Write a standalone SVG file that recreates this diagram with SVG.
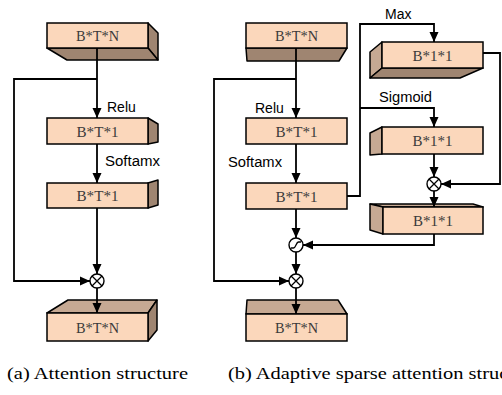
<svg xmlns="http://www.w3.org/2000/svg" width="502" height="395" viewBox="0 0 502 395">
<style>
.front{fill:#fbd7bb;stroke:#000;stroke-width:1.5}
.dark{fill:#9f8571;stroke:#000;stroke-width:1.5;stroke-linejoin:round}
.mid{fill:#c6a993;stroke:#000;stroke-width:1.5;stroke-linejoin:round}
.lbl{font-family:"Liberation Serif","Times New Roman",serif;font-size:15px;fill:#3a3a3a;text-anchor:middle}
.op{font-family:"Liberation Sans",Arial,sans-serif;font-size:14px;fill:#000}
.cap{font-family:"Liberation Serif","Times New Roman",serif;font-size:17px;fill:#000}
.arr{fill:none;stroke:#000;stroke-width:1.8;marker-end:url(#ah)}
.sym{fill:#fff;stroke:#000;stroke-width:1.4}
</style>
<defs>
<marker id="ah" markerUnits="userSpaceOnUse" markerWidth="10" markerHeight="10" viewBox="0 0 10 10" refX="10" refY="5" orient="auto">
<path d="M0,0.5 L10,5 L0,9.5 Z" fill="#000"/>
</marker>
</defs>
<rect width="502" height="395" fill="#fff"/>

<!-- Left panel nodes -->
<g id="a1">
<polygon class="dark" points="148,23 158,33 158,60 148,48"/>
<polygon class="dark" points="47,48 148,48 158,60 67,60"/>
<rect class="front" x="47" y="23" width="101" height="25"/>
<text class="lbl" x="97.5" y="41" textLength="43" lengthAdjust="spacingAndGlyphs">B*T*N</text>
</g>
<g id="a2">
<polygon class="dark" points="148,118 158,124 158,142 148,144"/>
<rect class="front" x="47" y="118" width="101" height="26"/>
<text class="lbl" x="97.5" y="136.5" textLength="42" lengthAdjust="spacingAndGlyphs">B*T*1</text>
</g>
<g id="a3">
<polygon class="dark" points="148,183 158,180 158,205 148,208"/>
<rect class="front" x="47" y="183" width="101" height="25"/>
<text class="lbl" x="97.5" y="201" textLength="42" lengthAdjust="spacingAndGlyphs">B*T*1</text>
</g>
<g id="a4">
<polygon class="mid" points="47,313 68,300 157,300 148,313"/>
<polygon class="dark" points="148,313 157,300 157,330 148,341"/>
<rect class="front" x="47" y="313" width="101" height="28"/>
<text class="lbl" x="97.5" y="332.5" textLength="43" lengthAdjust="spacingAndGlyphs">B*T*N</text>
</g>
<g id="amul">
<circle class="sym" cx="97" cy="281" r="7"/>
<path d="M92,276 L102,286 M102,276 L92,286" stroke="#000" stroke-width="1.3"/>
</g>

<!-- Right panel nodes -->
<g id="b1">
<polygon class="dark" points="246,48 347,48 339,61 247,61"/>
<rect class="front" x="246" y="23" width="101" height="25"/>
<text class="lbl" x="296.5" y="41" textLength="43" lengthAdjust="spacingAndGlyphs">B*T*N</text>
</g>
<g id="b2">
<rect class="front" x="246" y="118" width="101" height="26"/>
<text class="lbl" x="296.5" y="136.5" textLength="42" lengthAdjust="spacingAndGlyphs">B*T*1</text>
</g>
<g id="b3">
<rect class="front" x="246" y="183" width="101" height="26"/>
<text class="lbl" x="296.5" y="201.5" textLength="42" lengthAdjust="spacingAndGlyphs">B*T*1</text>
</g>
<g id="b4">
<polygon class="mid" points="246,314 247,300 338,300 347,314"/>
<rect class="front" x="246" y="314" width="101" height="27"/>
<text class="lbl" x="296.5" y="333" textLength="43" lengthAdjust="spacingAndGlyphs">B*T*N</text>
</g>
<g id="c1">
<polygon class="mid" points="382,42 370,52 370,78 382,68"/>
<polygon class="dark" points="382,68 483,68 460,78 370,78"/>
<rect class="front" x="382" y="42" width="101" height="26"/>
<text class="lbl" x="432.5" y="60.5" textLength="40" lengthAdjust="spacingAndGlyphs">B*1*1</text>
</g>
<g id="c2">
<polygon class="mid" points="382,127 370,133 370,155 382,154"/>
<rect class="front" x="382" y="127" width="101" height="27"/>
<text class="lbl" x="432.5" y="146" textLength="40" lengthAdjust="spacingAndGlyphs">B*1*1</text>
</g>
<g id="c3">
<polygon class="mid" points="370,204 473,204 483,207 383,207"/>
<polygon class="mid" points="370,204 383,207 383,234 370,230"/>
<rect class="front" x="383" y="207" width="100" height="27"/>
<text class="lbl" x="433" y="226" textLength="40" lengthAdjust="spacingAndGlyphs">B*1*1</text>
</g>
<g id="cmul">
<circle class="sym" cx="434" cy="184" r="7"/>
<path d="M429,179 L439,189 M439,179 L429,189" stroke="#000" stroke-width="1.3"/>
</g>
<g id="bsig">
<circle class="sym" cx="296" cy="245" r="7"/>
<path d="M291,248 L293.5,248 C296,248 296,242 298.5,242 L301,242" fill="none" stroke="#000" stroke-width="1.3"/>
</g>
<g id="bmul">
<circle class="sym" cx="296" cy="281" r="7"/>
<path d="M291,276 L301,286 M301,276 L291,286" stroke="#000" stroke-width="1.3"/>
</g>

<!-- Connectors -->
<g id="connectors">
<path class="arr" d="M97,48 L97,118"/>
<path class="arr" d="M97,79 L14,79 L14,281 L90,281"/>
<path class="arr" d="M97,144 L97,183"/>
<path class="arr" d="M97,208 L97,274"/>
<path class="arr" d="M97,288 L97,313"/>

<path class="arr" d="M296,48 L296,118"/>
<path class="arr" d="M296,79 L214,79 L214,281 L289,281"/>
<path class="arr" d="M296,144 L296,183"/>
<path class="arr" d="M296,209 L296,238"/>
<path class="arr" d="M296,252 L296,274"/>
<path class="arr" d="M296,288 L296,314"/>
<path class="arr" d="M347,196 L360,196 L360,24 L434,24 L434,42"/>
<path class="arr" d="M360,108 L434,108 L434,127"/>
<path class="arr" d="M483,53 L500,53 L500,184 L441,184"/>
<path class="arr" d="M434,154 L434,177"/>
<path class="arr" d="M434,191 L434,207"/>
<path class="arr" d="M434,234 L434,245 L303,245"/>
</g>

<!-- Labels -->
<text class="op" x="107" y="112">Relu</text>
<text class="op" x="105" y="166" textLength="55" lengthAdjust="spacingAndGlyphs">Softamx</text>
<text class="op" x="255" y="113">Relu</text>
<text class="op" x="228" y="167" textLength="54" lengthAdjust="spacingAndGlyphs">Softamx</text>
<text class="op" x="385" y="19">Max</text>
<text class="op" x="379" y="102" textLength="53" lengthAdjust="spacingAndGlyphs">Sigmoid</text>

<text class="cap" x="7" y="379" textLength="181" lengthAdjust="spacingAndGlyphs">(a) Attention structure</text>
<text class="cap" x="228" y="379" textLength="312" lengthAdjust="spacingAndGlyphs">(b) Adaptive sparse attention structure</text>
</svg>
